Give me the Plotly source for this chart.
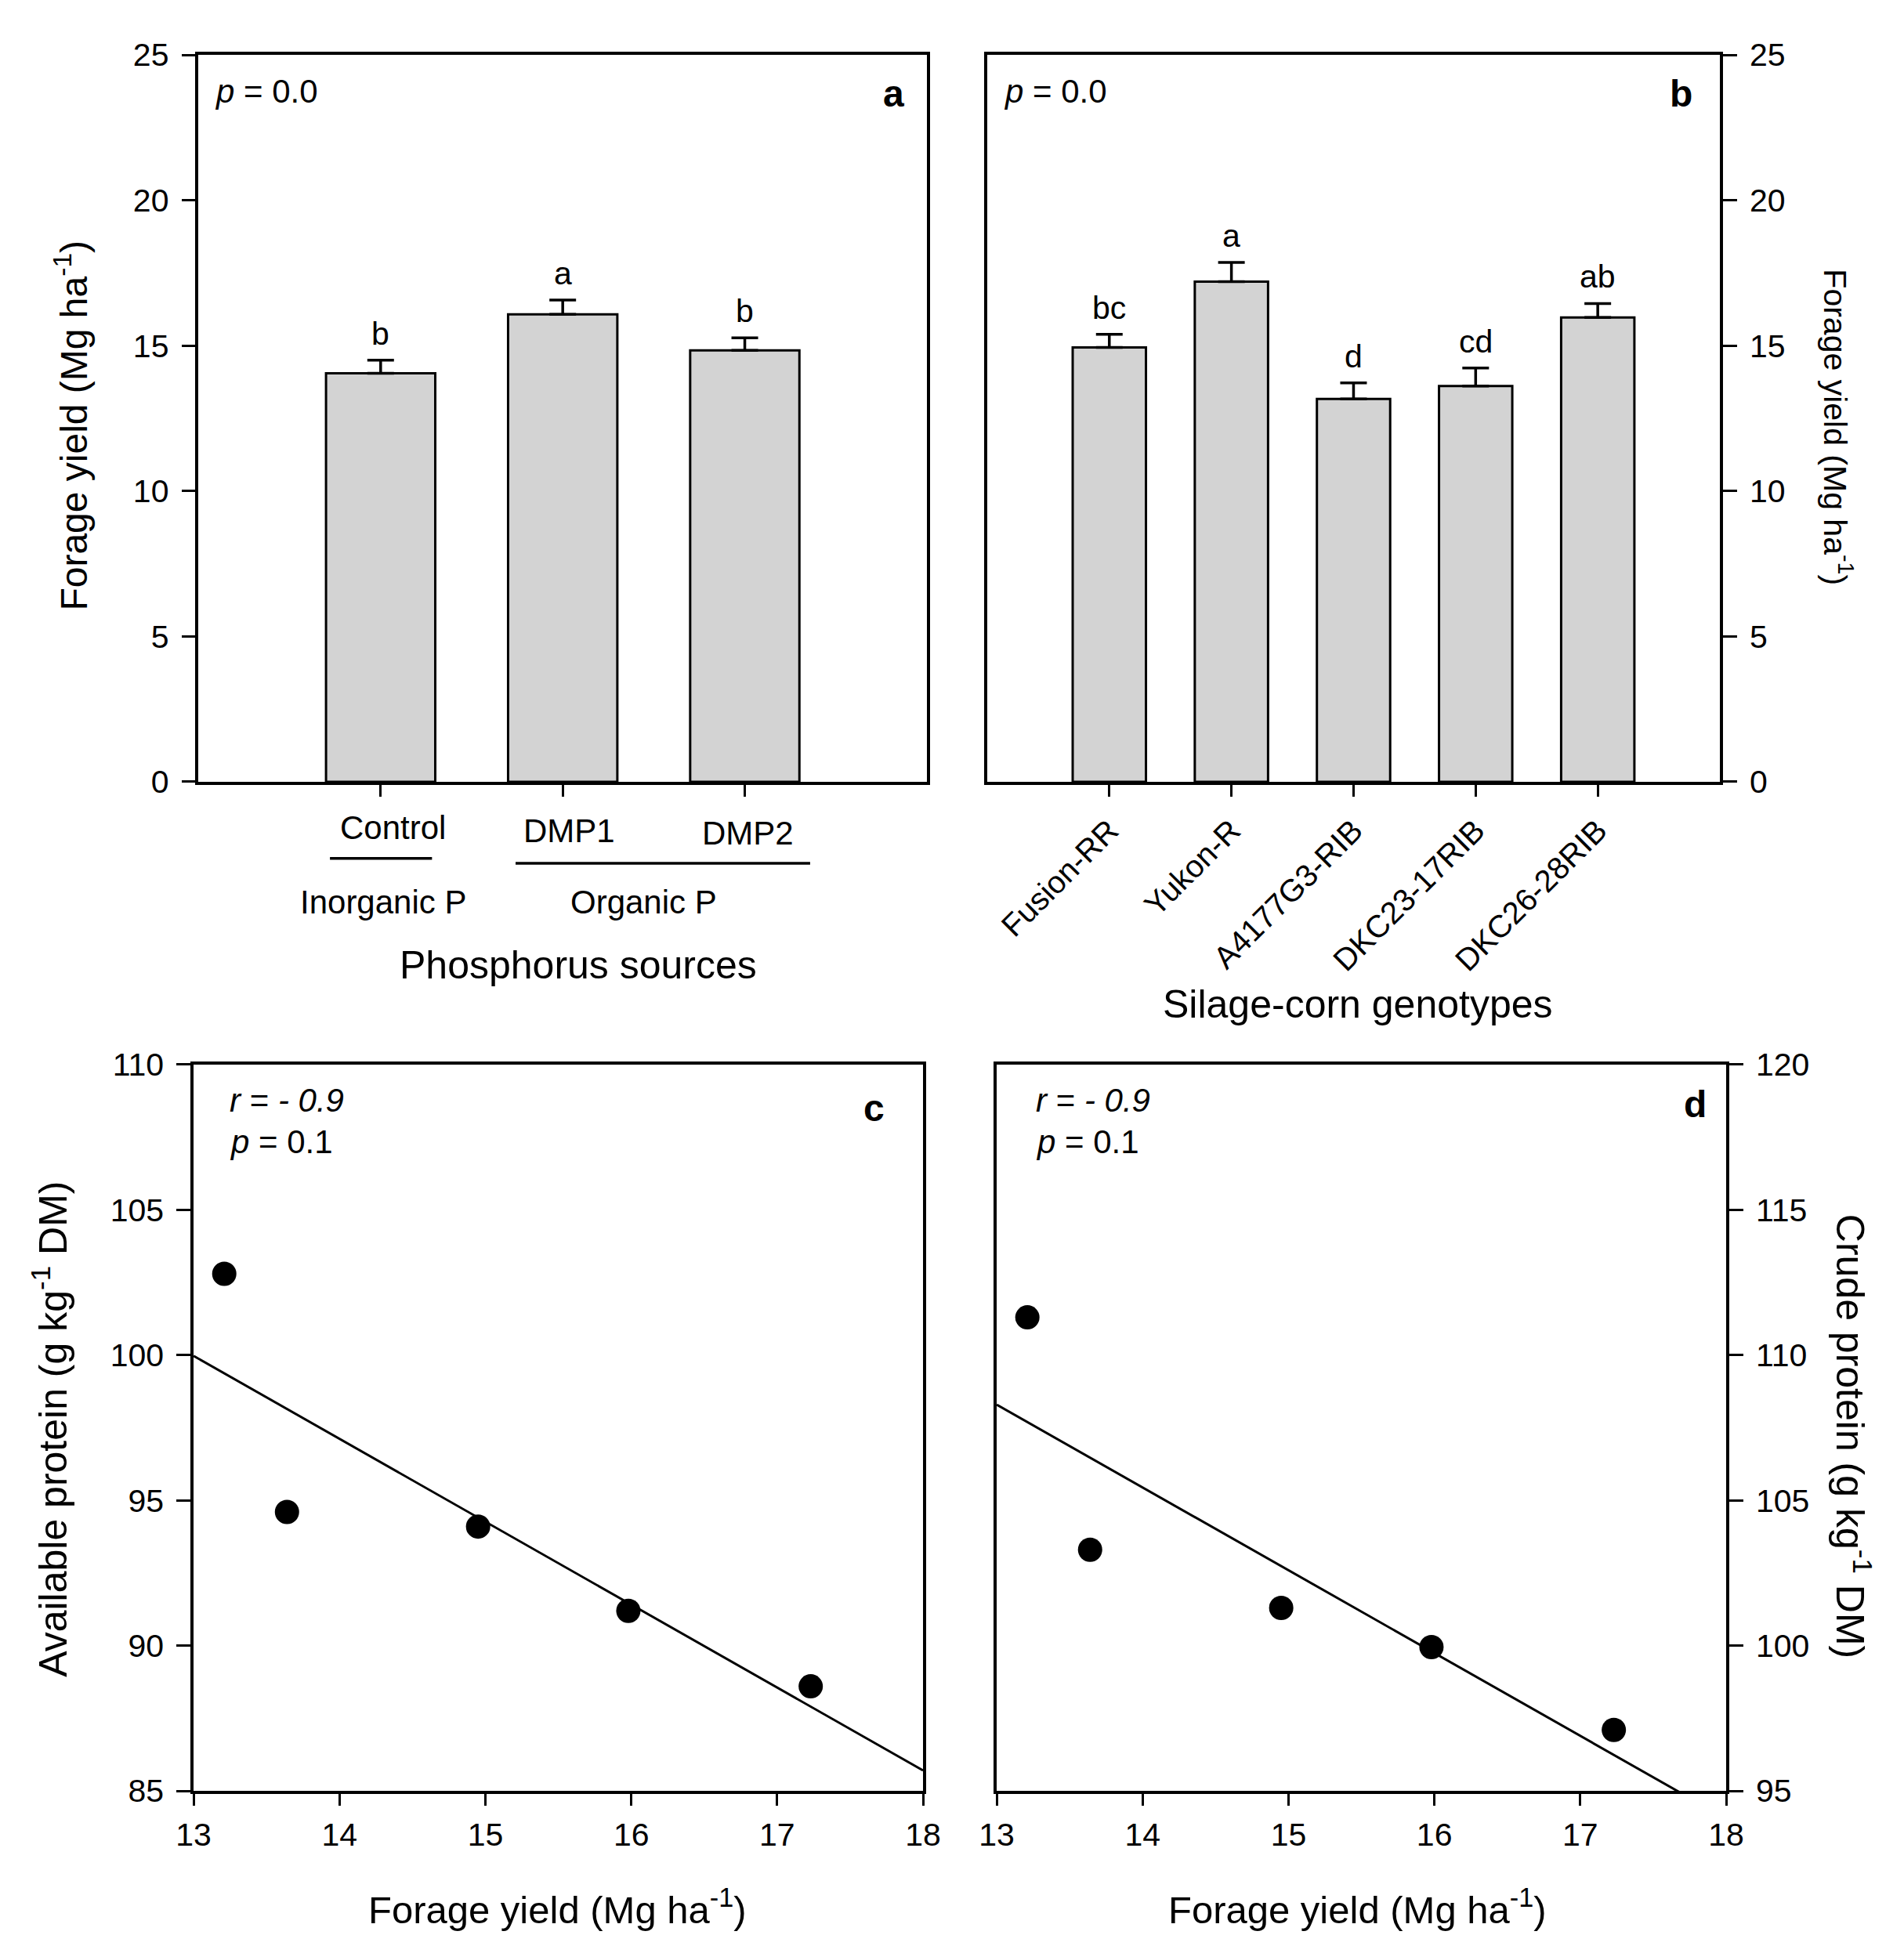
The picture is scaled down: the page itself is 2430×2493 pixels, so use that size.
import numpy as np
import plotly.graph_objects as go

# panel a - phosphorus sources
sources = ["Control", "DMP1", "DMP2"]
source_yield = [14.05, 16.08, 14.84]
source_se = [0.45, 0.49, 0.43]
source_letters = ["b", "a", "b"]

# panel b - silage-corn genotypes
genotypes = ["Fusion-RR", "Yukon-R", "A4177G3-RIB", "DKC23-17RIB", "DKC26-28RIB"]
geno_yield = [14.94, 17.2, 13.17, 13.61, 15.97]
geno_se = [0.45, 0.66, 0.55, 0.62, 0.48]
geno_letters = ["bc", "a", "d", "cd", "ab"]

# panels c, d - protein vs forage yield
fy = [13.21, 13.64, 14.95, 15.98, 17.23]
avail_protein = [102.8, 94.6, 94.1, 91.2, 88.6]
crude_protein = [111.3, 103.3, 101.3, 99.95, 97.1]

FONT = "Arial, Liberation Sans, sans-serif"
gray = "#d3d3d3"
tick_font = dict(family=FONT, size=41, color="black")

fig = go.Figure()

fig.add_trace(go.Bar(x=sources, y=source_yield, width=0.6,
                     marker=dict(color=gray, line=dict(color="black", width=3)),
                     error_y=dict(type="data", symmetric=False, array=source_se,
                                  arrayminus=[0] * len(sources), color="black",
                                  thickness=3.5, width=17),
                     xaxis="x", yaxis="y", showlegend=False))

fig.add_trace(go.Bar(x=genotypes, y=geno_yield, width=0.6,
                     marker=dict(color=gray, line=dict(color="black", width=3)),
                     error_y=dict(type="data", symmetric=False, array=geno_se,
                                  arrayminus=[0] * len(genotypes), color="black",
                                  thickness=3.5, width=17),
                     xaxis="x2", yaxis="y2", showlegend=False))

xr = [13, 18]
xl = np.linspace(xr[0], xr[1], 50)
for yv, xa, ya in [(avail_protein, "x3", "y3"), (crude_protein, "x4", "y4")]:
    k, b0 = np.polyfit(fy, yv, 1)
    fig.add_trace(go.Scatter(x=xl, y=k * xl + b0, mode="lines",
                             line=dict(color="black", width=3),
                             xaxis=xa, yaxis=ya, showlegend=False))
    fig.add_trace(go.Scatter(x=fy, y=yv, mode="markers",
                             marker=dict(color="black", size=31),
                             xaxis=xa, yaxis=ya, showlegend=False))

ax = dict(showline=True, linecolor="black", linewidth=3.5, mirror=True,
          ticks="outside", tickcolor="black", tickwidth=3, showgrid=False,
          zeroline=False, tickfont=tick_font, automargin=False)

fig.update_layout(
    template="none",
    width=2430, height=2493,
    margin=dict(l=0, r=0, t=0, b=0, pad=0),
    paper_bgcolor="white", plot_bgcolor="white",
    font=dict(family=FONT, color="black"),
    xaxis=dict(ax, domain=[0.1010, 0.4835], anchor="y", type="category",
               range=[-1, 3], showticklabels=False, ticklen=15),
    yaxis=dict(ax, domain=[0.6029, 0.9751], anchor="x", range=[0, 25],
               tickvals=[0, 5, 10, 15, 20, 25], ticklen=18, ticklabelstandoff=8),
    xaxis2=dict(ax, domain=[0.5152, 0.9000], anchor="y2", type="category",
                range=[-1, 5], tickangle=-45, ticklen=15, ticklabelstandoff=4,
                tickfont=dict(family=FONT, size=40, color="black")),
    yaxis2=dict(ax, domain=[0.6029, 0.9751], anchor="x2", side="right",
                range=[0, 25], tickvals=[0, 5, 10, 15, 20, 25], ticklen=18,
                ticklabelstandoff=8),
    xaxis3=dict(ax, domain=[0.0984, 0.4815], anchor="y3", range=xr,
                tickvals=[13, 14, 15, 16, 17, 18], ticklen=15, ticklabelstandoff=2),
    yaxis3=dict(ax, domain=[0.0862, 0.4581], anchor="x3", range=[85, 110],
                tickvals=[85, 90, 95, 100, 105, 110], ticklen=18, ticklabelstandoff=8),
    xaxis4=dict(ax, domain=[0.5202, 0.9033], anchor="y4", range=xr,
                tickvals=[13, 14, 15, 16, 17, 18], ticklen=15, ticklabelstandoff=2),
    yaxis4=dict(ax, domain=[0.0862, 0.4581], anchor="x4", side="right",
                range=[95, 120], tickvals=[95, 100, 105, 110, 115, 120], ticklen=18,
                ticklabelstandoff=8),
)

ann = []

def txt(x, y, s, size, xref="paper", yref="paper", xanchor="center",
        yanchor="middle", angle=0, **kw):
    ann.append(dict(x=x, y=y, text=s, xref=xref, yref=yref, xanchor=xanchor,
                    yanchor=yanchor, textangle=angle, showarrow=False,
                    font=dict(family=FONT, size=size, color="black"), **kw))

# significance letters above bars
for c, v, e, l in zip(sources, source_yield, source_se, source_letters):
    txt(c, v + e, l, 41, xref="x", yref="y", yanchor="bottom", yshift=9)
for c, v, e, l in zip(genotypes, geno_yield, geno_se, geno_letters):
    txt(c, v + e, l, 41, xref="x2", yref="y2", yanchor="bottom", yshift=9)

# in-panel texts
txt(0.02, 0.95, "<i>p</i> = 0.0", 42, "x domain", "y domain", xanchor="left")
txt(0.971, 0.947, "<b>a</b>", 48, "x domain", "y domain", xanchor="right")
txt(0.02, 0.95, "<i>p</i> = 0.0", 42, "x2 domain", "y2 domain", xanchor="left")
txt(0.965, 0.947, "<b>b</b>", 48, "x2 domain", "y2 domain", xanchor="right")
txt(0.047, 0.951, "<i>r</i> = <i>- 0.9</i>", 42, "x3 domain", "y3 domain", xanchor="left")
txt(0.047, 0.894, "<i>p</i> = 0.1", 42, "x3 domain", "y3 domain", xanchor="left")
txt(0.95, 0.94, "<b>c</b>", 48, "x3 domain", "y3 domain", xanchor="right")
txt(0.052, 0.951, "<i>r</i> = <i>- 0.9</i>", 42, "x4 domain", "y4 domain", xanchor="left")
txt(0.052, 0.894, "<i>p</i> = 0.1", 42, "x4 domain", "y4 domain", xanchor="left")
txt(0.975, 0.946, "<b>d</b>", 48, "x4 domain", "y4 domain", xanchor="right")

# panel a category labels and grouping
txt(0.2029, 0.5796, "Control", 42)
txt(0.2955, 0.578, "DMP1", 42)
txt(0.3897, 0.5768, "DMP2", 42)
txt(0.198, 0.5415, "Inorganic P", 42)
txt(0.3346, 0.5415, "Organic P", 42)
txt(0.3005, 0.509, "Phosphorus sources", 50)
txt(0.710, 0.489, "Silage-corn genotypes", 50)

# axis titles
txt(0.034, 0.7854, "Forage yield (Mg ha<sup>-1</sup>)", 48, angle=-90)
txt(0.962, 0.7846, "Forage yield (Mg ha<sup>-1</sup>)", 41, angle=90)
txt(0.023, 0.2716, "Available protein (g kg<sup>-1</sup> DM)", 50, angle=-90)
txt(0.970, 0.268, "Crude protein (g kg<sup>-1</sup> DM)", 50, angle=90)
txt(0.2897, 0.027, "Forage yield (Mg ha<sup>-1</sup>)", 49)
txt(0.7095, 0.027, "Forage yield (Mg ha<sup>-1</sup>)", 49)

fig.update_layout(annotations=ann, shapes=[
    dict(type="line", xref="paper", yref="paper", x0=0.170, x1=0.2236,
         y0=0.5637, y1=0.5637, line=dict(color="black", width=3.5)),
    dict(type="line", xref="paper", yref="paper", x0=0.2675, x1=0.4222,
         y0=0.5612, y1=0.5612, line=dict(color="black", width=3.5)),
])

fig.write_html("out.html")
